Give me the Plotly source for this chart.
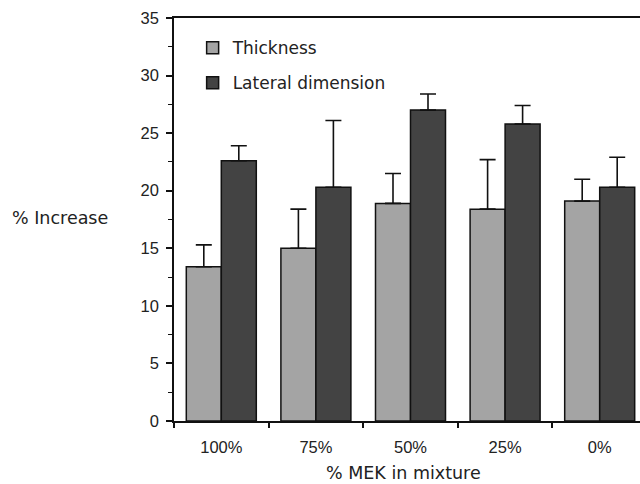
import plotly.graph_objects as go

categories = ["100%", "75%", "50%", "25%", "0%"]
thickness = [13.4, 15.0, 18.9, 18.4, 19.1]
thickness_err = [1.9, 3.4, 2.6, 4.3, 1.9]
lateral = [22.6, 20.3, 27.0, 25.8, 20.3]
lateral_err = [1.3, 5.8, 1.4, 1.6, 2.6]
y_ticks = [0, 5, 10, 15, 20, 25, 30, 35]

fig = go.Figure()
fig.add_trace(go.Bar(
    x=categories, y=thickness, name="Thickness", legendgroup="a",
    marker=dict(color="#a4a4a4", line=dict(color="#111", width=1.5)),
    error_y=dict(type="data", array=thickness_err, arrayminus=[0]*5, symmetric=False,
                 color="#111", thickness=1.6, width=8),
))
fig.add_trace(go.Bar(
    x=categories, y=lateral, name="Lateral dimension", legendgroup="b",
    marker=dict(color="#434343", line=dict(color="#111", width=1.5)),
    error_y=dict(type="data", array=lateral_err, arrayminus=[0]*5, symmetric=False,
                 color="#111", thickness=1.6, width=8),
))

fig.update_layout(
    width=640, height=484,
    margin=dict(l=174, r=0, t=18, b=63),
    paper_bgcolor="white", plot_bgcolor="white",
    barmode="group", bargap=0.26, bargroupgap=0.0,
    showlegend=True,
    legend=dict(x=0.04, y=0.97, xanchor="left", yanchor="top",
                font=dict(family="DejaVu Sans", size=17, color="#222"),
                tracegroupgap=10, bgcolor="rgba(0,0,0,0)"),
    font=dict(family="Liberation Sans", size=16, color="#222"),
)
fig.update_xaxes(
    type="category", range=[-0.5, 4.426],
    showline=True, linecolor="#111", linewidth=1.5, mirror=True,
    ticks="outside", tickson="boundaries", ticklen=5, tickcolor="#111", tickwidth=1.5,
    ticklabelstandoff=10,
    tickfont=dict(family="Liberation Sans", size=16.5, color="#222"),
    showgrid=False, zeroline=False,
)
fig.update_yaxes(
    range=[0, 35], tickvals=y_ticks,
    showline=True, linecolor="#111", linewidth=1.5,
    ticks="outside", ticklen=6, tickcolor="#111", tickwidth=1.5,
    ticklabelstandoff=4,
    minor=dict(dtick=2.5, ticks="outside", ticklen=4, tickcolor="#111", tickwidth=1.2, showgrid=False),
    tickfont=dict(family="Liberation Sans", size=16.5, color="#222"),
    showgrid=False, zeroline=False,
)
fig.add_annotation(text="% Increase", xref="paper", yref="paper", x=-0.352, y=0.504,
                   xanchor="left", yanchor="middle", showarrow=False,
                   font=dict(family="DejaVu Sans", size=17.5, color="#222"))
fig.add_annotation(text="% MEK in mixture", xref="paper", yref="paper", x=0.492, y=-0.13,
                   xanchor="center", yanchor="middle", showarrow=False,
                   font=dict(family="DejaVu Sans", size=17.5, color="#222"))

fig.write_html("out.html")
